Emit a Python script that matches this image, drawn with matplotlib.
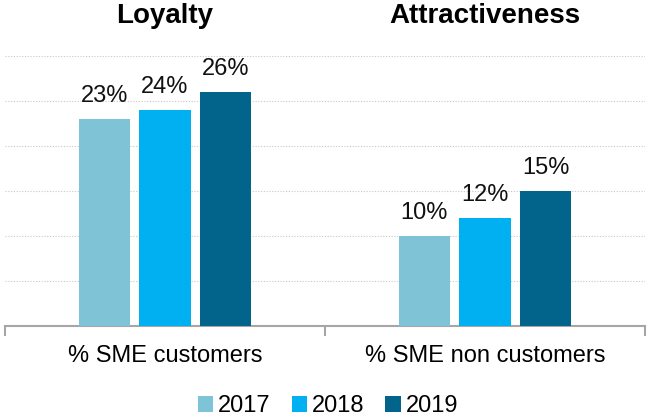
import numpy as np
import matplotlib
matplotlib.use("Agg")
import matplotlib.pyplot as plt

plt.rcParams["font.family"] = ["Liberation Sans", "DejaVu Sans"]

# data
groups = ["% SME customers", "% SME non customers"]
titles = ["Loyalty", "Attractiveness"]
years = ["2017", "2018", "2019"]
values = {
    "2017": [23, 10],
    "2018": [24, 12],
    "2019": [26, 15],
}
colors = ["#7FC3D6", "#00B0F0", "#02648B"]

fig = plt.figure(figsize=(6.49, 4.2), dpi=100)
ax = fig.add_axes([5 / 649, 1 - 326 / 420, 640 / 649, 270 / 420])

x = np.arange(len(groups))
width = 0.16
step = 0.19
for i, yr in enumerate(years):
    pos = x + (i - 1) * step
    bars = ax.bar(pos, values[yr], width, color=colors[i], label=yr, zorder=3)
    for b, v in zip(bars, values[yr]):
        ax.annotate(f"{v}%", (b.get_x() + b.get_width() / 2, v),
                    xytext=(0, 12), textcoords="offset points",
                    ha="center", va="baseline", fontsize=17, color="#111111")

ax.set_xlim(-0.5, 1.5)
ax.set_ylim(0, 30)
ax.set_yticks(np.arange(5, 31, 5))
ax.yaxis.grid(True, linestyle=(0, (1, 1.5)), color="#C8C8C8", linewidth=0.8, zorder=0)
ax.tick_params(axis="y", left=False, labelleft=False)

ax.set_xticks(x)
ax.set_xticklabels(groups, fontsize=17)
ax.tick_params(axis="x", which="major", length=0, pad=14)
ax.set_xticks([-0.5, 0.5, 1.5], minor=True)
ax.tick_params(axis="x", which="minor", length=7, width=1.5, color="#A6A6A6")

for s in ["top", "right", "left"]:
    ax.spines[s].set_visible(False)
ax.spines["bottom"].set_color("#A6A6A6")
ax.spines["bottom"].set_linewidth(1.5)

for i, t in enumerate(titles):
    fig.text((5 + 160 + 320 * i) / 649, 1 - 23 / 420, t, ha="center", va="baseline",
             fontsize=20, fontweight="bold")

fig.legend(loc="lower center", bbox_to_anchor=(0.505, -0.022), ncol=3, frameon=False,
           fontsize=17, handlelength=0.65, handleheight=0.65, handletextpad=0.2,
           columnspacing=0.9, borderpad=0)

fig.savefig("out.png", dpi=100)
